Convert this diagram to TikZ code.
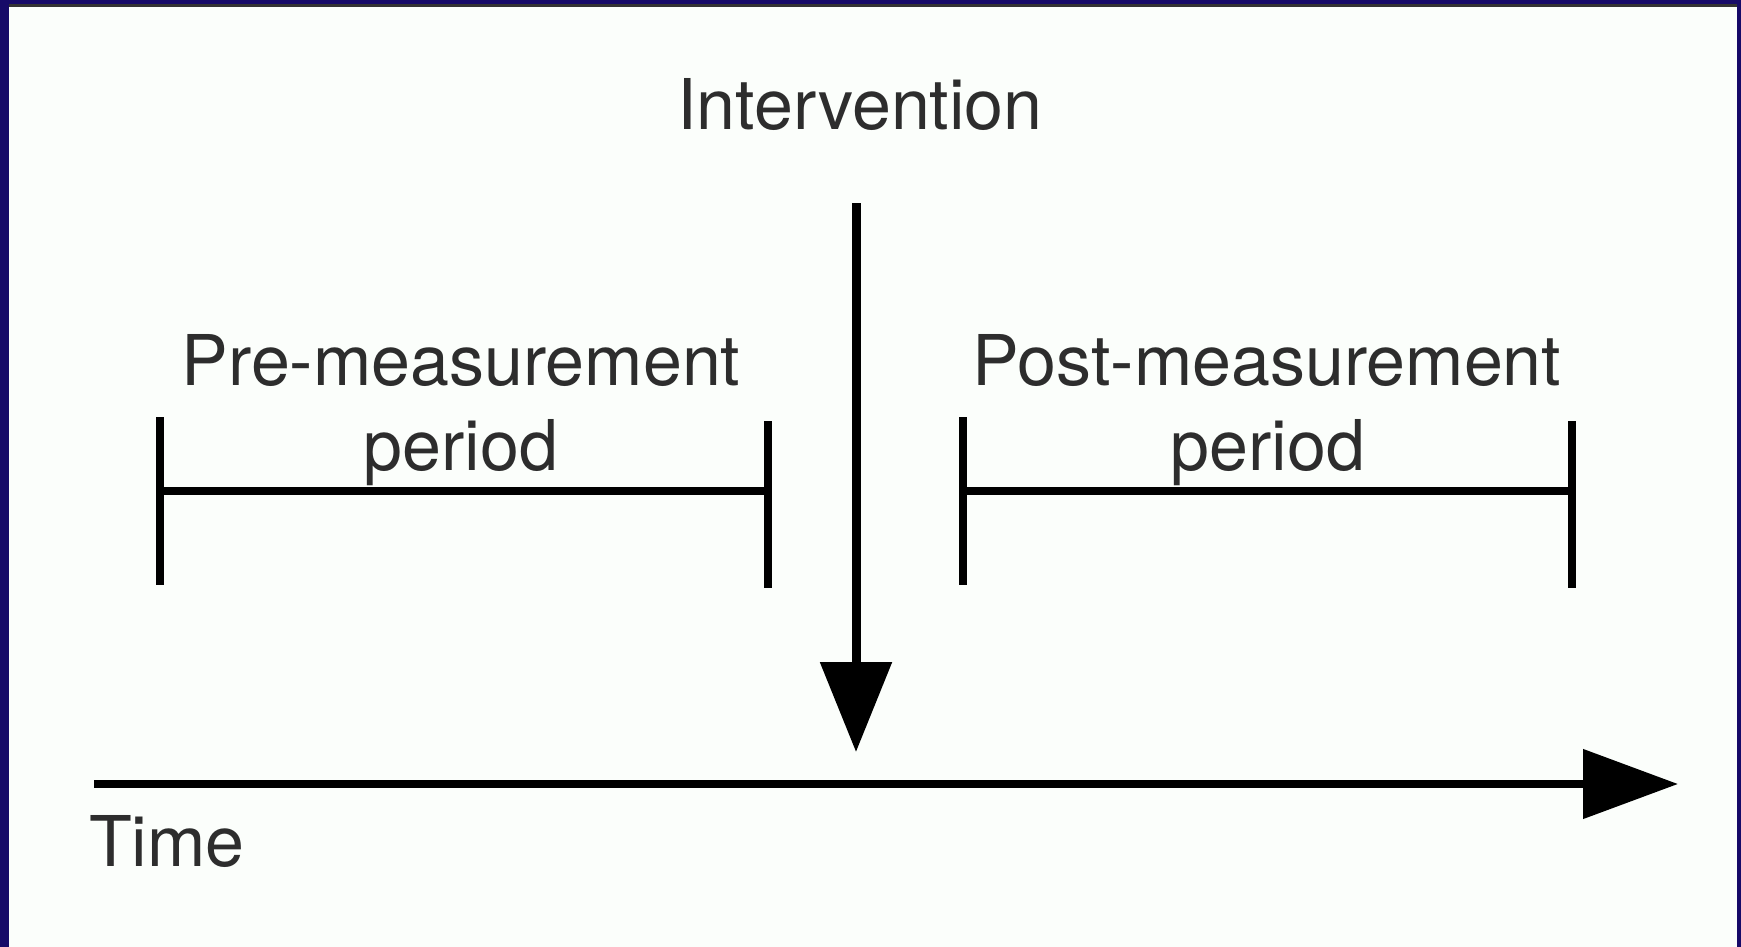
\documentclass[tikz,border=0pt]{standalone}
\usepackage{fontspec}
\setmainfont{TeX Gyre Heros}
\usetikzlibrary{arrows.meta}
\definecolor{navy}{RGB}{22,10,104}
\definecolor{bg}{RGB}{251,254,251}
\definecolor{txt}{RGB}{45,45,45}
\tikzset{
  lbl/.style={text=txt, font=\fontsize{70}{84}\selectfont, inner sep=0pt, anchor=base},
  bar/.style={line width=8pt, draw=black},
  axis/.style={line width=8pt, draw=black, -{Triangle[length=95pt,width=68pt]}},
  intarrow/.style={line width=9pt, draw=black, -{Triangle[length=90pt,width=70pt]}}
}
\begin{document}
\begin{tikzpicture}[x=1pt,y=-1pt]
\useasboundingbox (0,0) rectangle (1741,947);
\fill[bg] (0,0) rectangle (1741,947);
% frame
\fill[navy] (0,0) rectangle (9,947);
\fill[navy] (1737,0) rectangle (1741,947);
\fill[navy] (0,0) rectangle (1741,4);
\fill[black!80] (9,4) rectangle (1737,7);
% time axis
\coordinate (tstart) at (94,784);
\coordinate (tend) at (1678,784);
\draw[axis] (tstart) -- (tend);
\node[lbl, anchor=base west] (time) at (89,866) {Time};
% intervention arrow
\coordinate (istart) at (856,203);
\coordinate (iend) at (856,752);
\draw[intarrow] (istart) -- (iend);
\node[lbl] (interv) at (860,130) {Intervention};
% pre bracket
\coordinate (preL) at (160,491);
\coordinate (preR) at (768,491);
\coordinate (preLt) at (160,417);
\coordinate (preLb) at (160,585);
\coordinate (preRt) at (768,421);
\coordinate (preRb) at (768,588);
\draw[bar] (preL) -- (preR);
\draw[bar] (preLt) -- (preLb);
\draw[bar] (preRt) -- (preRb);
\node[lbl] (pre1) at (461,385) {Pre-measurement};
\node[lbl] (pre2) at (461,470) {period};
% post bracket
\coordinate (postL) at (963,491);
\coordinate (postR) at (1572,491);
\coordinate (postLt) at (963,417);
\coordinate (postLb) at (963,585);
\coordinate (postRt) at (1572,421);
\coordinate (postRb) at (1572,588);
\draw[bar] (postL) -- (postR);
\draw[bar] (postLt) -- (postLb);
\draw[bar] (postRt) -- (postRb);
\node[lbl] (post1) at (1267,385) {Post-measurement};
\node[lbl] (post2) at (1268,470) {period};
\end{tikzpicture}
\end{document}
